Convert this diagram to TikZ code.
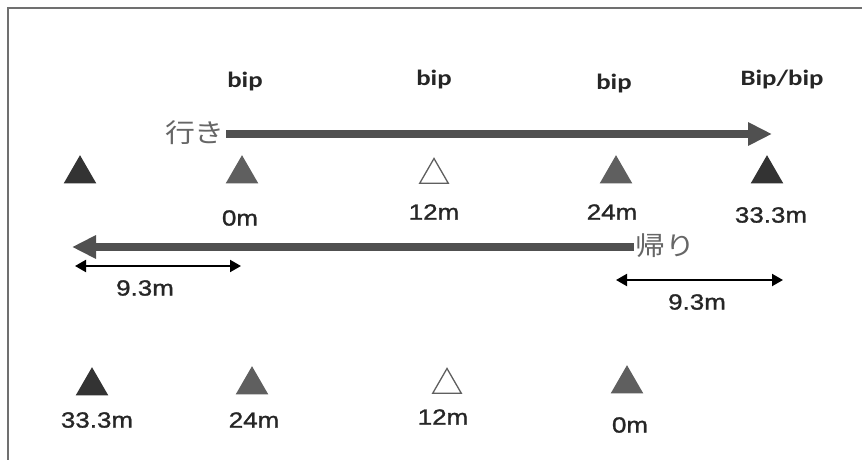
\documentclass[tikz,border=0pt]{standalone}
\usepackage{fontspec}
\setmainfont{Liberation Sans}[FakeStretch=1.18,FakeBold=1.2]
\newfontfamily\cjkfont{Noto Sans CJK JP}[FakeStretch=1.15]
\newfontfamily\calfont{Carlito}[FakeStretch=1.22]
\usetikzlibrary{arrows.meta,shapes.geometric}
\definecolor{darktri}{HTML}{333333}
\definecolor{midtri}{HTML}{5F5F5F}
\definecolor{arrowgray}{HTML}{505050}
\definecolor{jpgray}{HTML}{666666}
\definecolor{framegray}{HTML}{707070}
\begin{document}
\begin{tikzpicture}[x=1pt,y=-1pt,
  tri/.style={regular polygon,regular polygon sides=3,minimum size=35pt,inner sep=0pt,line width=1.3pt},
  trid/.style={tri,fill=darktri,draw=darktri},
  trim/.style={tri,fill=midtri,draw=midtri},
  trio/.style={tri,fill=white,draw=midtri,minimum size=33pt},
  biplab/.style={font=\calfont\bfseries\fontsize{22}{24}\selectfont,text=black!85,inner sep=0pt},
  numlab/.style={font=\fontsize{22}{24}\selectfont,text=black!85,inner sep=0pt},
  jplab/.style={font=\cjkfont\fontsize{26}{28}\selectfont,text=jpgray,inner sep=1pt},
  bigarrow/.style={draw=arrowgray,line width=8pt,-{Triangle[length=24pt,width=22pt]}},
  dimarrow/.style={draw=black,line width=2pt,{Triangle[length=11pt,width=12pt]}-{Triangle[length=11pt,width=12pt]}}
]
\useasboundingbox (0,0) rectangle (862,460);
\fill[white] (0,0) rectangle (862,460);
% frame
\draw[framegray,line width=1.5pt] (8,462) -- (8,8) -- (864,8);

% top labels
\node[biplab] (b1) at (245,82) {bip};
\node[biplab] (b2) at (434,80) {bip};
\node[biplab] (b3) at (614,84) {bip};
\node[biplab] (b4) at (782,80) {Bip/bip};

% outgoing arrow
\node[jplab,anchor=east] (iki) at (226,133) {行き};
\coordinate (ikiend) at (772,134);
\draw[bigarrow] (iki.east |- ikiend) -- (ikiend);

% row 1 triangles
\node[trid] (t1) at (80,174) {};
\node[trim] (t2) at (242,174) {};
\node[trio] (t3) at (434,175) {};
\node[trim] (t4) at (616,174) {};
\node[trid] (t5) at (767,174) {};

% row 1 labels
\node[numlab] (l2) at (240,218) {0m};
\node[numlab] (l3) at (434,212) {12m};
\node[numlab] (l4) at (612,212) {24m};
\node[numlab] (l5) at (771,215) {33.3m};

% return arrow
\node[jplab,anchor=west] (kaeri) at (634,246) {帰り};
\coordinate (kaeriend) at (72,247);
\draw[bigarrow] (kaeri.west |- kaeriend) -- (kaeriend);

% dimension arrows
\coordinate (dl1) at (75,266);
\coordinate (dl2) at (241,266);
\draw[dimarrow] (dl1) -- (dl2);
\node[numlab] (d1) at (145,288) {9.3m};
\coordinate (dr1) at (616,280);
\coordinate (dr2) at (783,280);
\draw[dimarrow] (dr1) -- (dr2);
\node[numlab] (d2) at (697,302) {9.3m};

% row 2 triangles
\node[trid] (s1) at (92,386) {};
\node[trim] (s2) at (252,385) {};
\node[trio] (s3) at (447,385) {};
\node[trim] (s4) at (627,384) {};

% row 2 labels
\node[numlab] (m1) at (97,420) {33.3m};
\node[numlab] (m2) at (254,420) {24m};
\node[numlab] (m3) at (443,417) {12m};
\node[numlab] (m4) at (630,425) {0m};
\end{tikzpicture}
\end{document}
